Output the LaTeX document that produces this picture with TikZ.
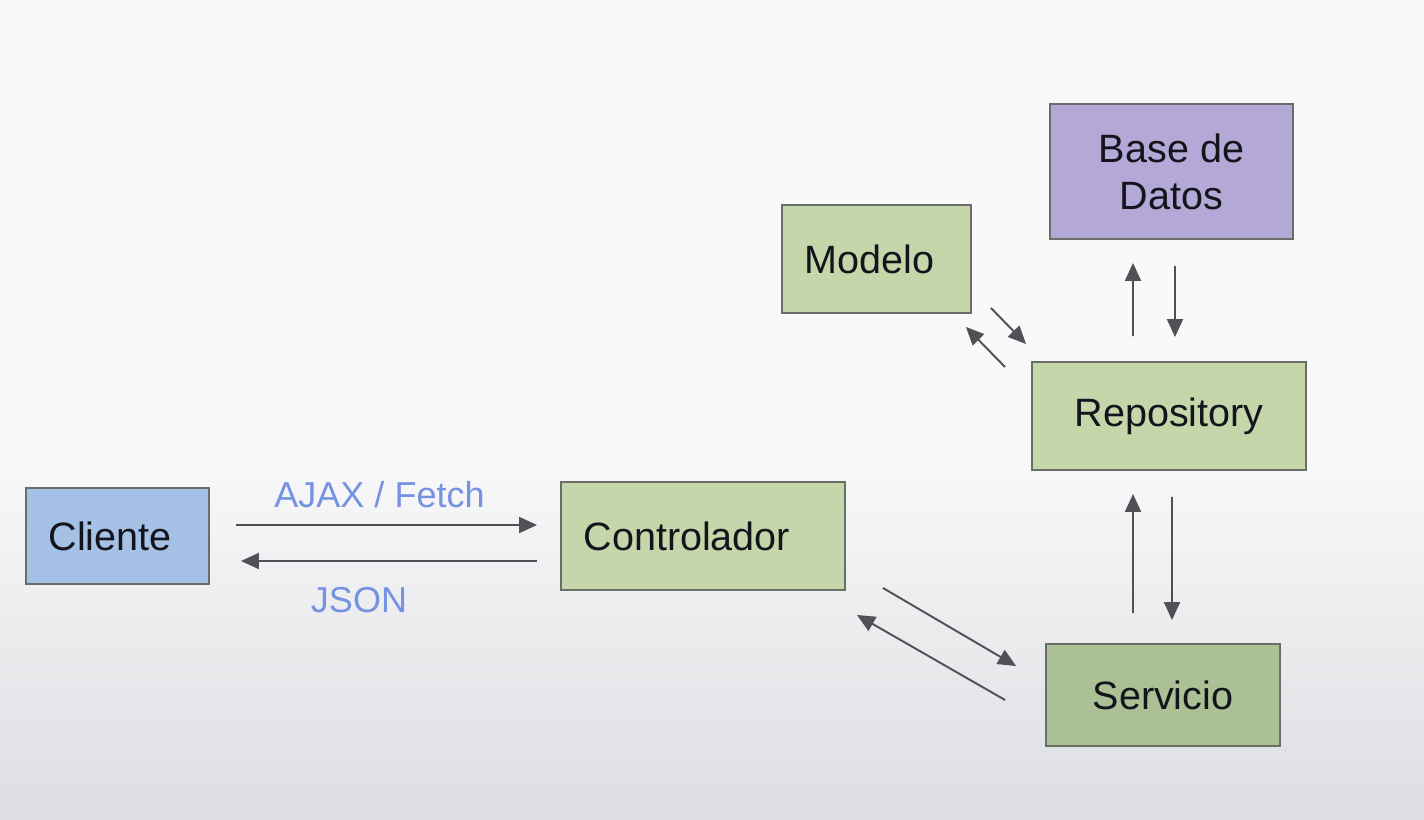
\documentclass[tikz,border=0pt]{standalone}
\usepackage{fontspec}
\setmainfont{Liberation Sans}
\usetikzlibrary{arrows.meta, positioning}

\begin{document}
\begin{tikzpicture}[x=0.02cm, y=-0.02cm,
    bloque/.style={draw=borde, line width=1.1pt, inner sep=0pt, text=texto,
        font=\fontsize{22.5}{26.6}\selectfont, align=center},
    bloqueizq/.style={bloque, text width=#1, inner xsep=0.45cm, align=left},
    flecha/.style={draw=linea, line width=1.1pt,
        -{Triangle[length=0.36cm, width=0.32cm]}},
    etiqueta/.style={text=azulet, font=\fontsize{20.5}{24}\selectfont, inner sep=0pt}]
            % Цвета
            \definecolor{fondo}{RGB}{249,249,250}
            \definecolor{fondob}{RGB}{221,222,226}
            \definecolor{borde}{RGB}{105,110,105}
            \definecolor{linea}{RGB}{80,80,86}
            \definecolor{texto}{RGB}{20,20,28}
            \definecolor{azulet}{RGB}{118,146,226}
            \definecolor{azul}{RGB}{165,193,229}
            \definecolor{verde}{RGB}{196,214,170}
            \definecolor{verdeb}{RGB}{171,192,148}
            \definecolor{morado}{RGB}{180,168,214}

            % Фон
            \useasboundingbox (0,0) rectangle (1424,819);
            \fill[fondo] (0,0) rectangle (1424,450);
            \shade[top color=fondo, bottom color=fondob] (0,450) rectangle (1424,819);

            % Блоки
            \node[bloqueizq=2.76cm, fill=azul, minimum height=1.92cm] (cli) at (117.5,536) {Cliente};
            \node[bloqueizq=4.78cm, fill=verde, minimum height=2.16cm] (ctrl) at (703,536) {Controlador};
            \node[bloqueizq=2.88cm, fill=verde, minimum height=2.16cm] (mod) at (876.5,259) {Modelo};
            \node[bloque, fill=morado, minimum width=4.86cm, minimum height=2.7cm] (bd) at (1171.5,171.5) {Base de\\Datos};
            \node[bloque, fill=verde, minimum width=5.48cm, minimum height=2.16cm] (rep) at (1169,416) {Repository};
            \node[bloque, fill=verdeb, minimum width=4.68cm, minimum height=2.04cm] (serv) at (1163,695) {Servicio};

            % Стрелки
            \draw[flecha] ([xshift=0.52cm, yshift=0.22cm]cli.east) -- ([xshift=-0.46cm, yshift=0.22cm]ctrl.west)
                node[etiqueta, midway, above=0.32cm, xshift=-0.14cm] (ajax) {AJAX / Fetch};
            \draw[flecha] ([xshift=-0.46cm, yshift=-0.5cm]ctrl.west) -- ([xshift=0.62cm, yshift=-0.5cm]cli.east)
                node[etiqueta, midway, below=0.5cm, xshift=-0.6cm] (json) {JSON};
            \draw[flecha] ([xshift=0.74cm, yshift=0.06cm]ctrl.south east) -- ([xshift=-0.58cm, yshift=0.58cm]serv.west);
            \draw[flecha] ([xshift=-0.8cm, yshift=-0.1cm]serv.west) -- ([xshift=0.22cm, yshift=-0.48cm]ctrl.south east);
            \draw[flecha] ([xshift=-0.6cm, yshift=0.6cm]serv.north) -- ([xshift=-0.72cm, yshift=-0.46cm]rep.south);
            \draw[flecha] ([xshift=0.06cm, yshift=-0.52cm]rep.south) -- ([xshift=0.18cm, yshift=0.46cm]serv.north);
            \draw[flecha] ([xshift=-0.72cm, yshift=0.5cm]rep.north) -- ([xshift=-0.77cm, yshift=-0.46cm]bd.south);
            \draw[flecha] ([xshift=0.07cm, yshift=-0.52cm]bd.south) -- ([xshift=0.12cm, yshift=0.48cm]rep.north);
            \draw[flecha] ([xshift=0.38cm, yshift=0.12cm]mod.south east) -- ([xshift=-0.1cm, yshift=0.34cm]rep.north west);
            \draw[flecha] ([xshift=-0.52cm, yshift=-0.12cm]rep.north west) -- ([xshift=-0.12cm, yshift=-0.26cm]mod.south east);

        \end{tikzpicture}
\end{document}
